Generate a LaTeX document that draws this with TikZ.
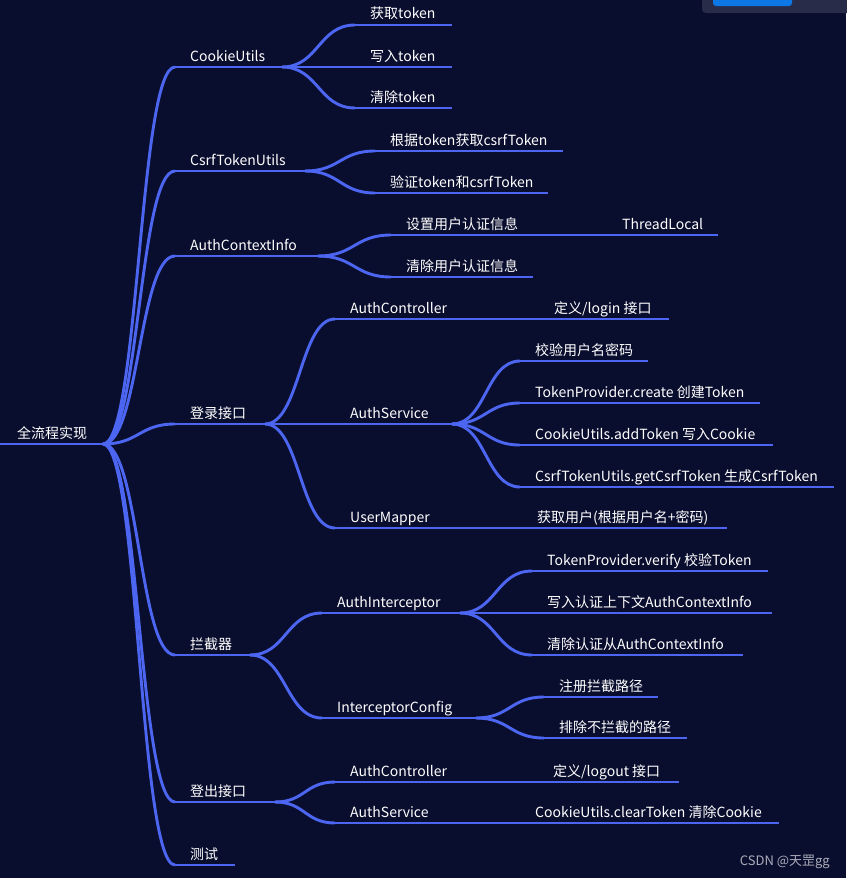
\documentclass[tikz,border=0pt]{standalone}
\usepackage{fontspec}
\setmainfont{Noto Sans CJK SC}
\usetikzlibrary{calc}
\definecolor{bg}{RGB}{10,14,46}
\definecolor{ln}{RGB}{76,102,242}
\definecolor{panel}{RGB}{40,44,72}
\definecolor{btn}{RGB}{12,120,230}
\definecolor{wm}{RGB}{170,172,185}
\tikzset{
  uline/.style={draw=ln, line width=2.9pt},
  lbl/.style={text=white, font=\fontsize{14}{16}\selectfont, inner sep=0pt, anchor=base west},
}
\newcommand\mmnode[5]{%
  \coordinate (#1-s) at (#2,#4);
  \coordinate (#1-e) at (#3,#4);
  \draw[uline] (#1-s) -- (#1-e);
  \node[lbl] (#1) at (#2+15,#4-6) {#5};
}
\newcommand\mmlink[2]{\draw[uline] let \p1=(#1-e), \p2=(#2-s) in (\p1) .. controls ({(\x1+\x2)/2},\y1) and ({(\x1+\x2)/2},\y2) .. (\p2);}
\begin{document}
\begin{tikzpicture}[x=1pt,y=-1pt]
\fill[bg] (0,0) rectangle (846,878);
\useasboundingbox (0,0) rectangle (846,878);
% top-right UI panel
\fill[panel, rounded corners=4pt] (702,-6) rectangle (852,13);
\fill[btn, rounded corners=3pt] (713,-6) rectangle (792,6);
% root
\coordinate (root-s) at (0,444);
\coordinate (root-e) at (103,444);
\draw[uline] (root-s) -- (root-e);
\node[lbl] (root) at (17,438) {全流程实现};
% level 1
\mmnode{cu}{175}{282}{67}{CookieUtils}
\mmnode{ct}{175}{305}{171}{CsrfTokenUtils}
\mmnode{ac}{175}{318}{256}{AuthContextInfo}
\mmnode{li}{175}{265}{424}{登录接口}
\mmnode{ic}{175}{250}{655}{拦截器}
\mmnode{lo}{175}{275}{802}{登出接口}
\mmnode{cs}{175}{235}{865}{测试}
\mmlink{root}{cu}
\mmlink{root}{ct}
\mmlink{root}{ac}
\mmlink{root}{li}
\mmlink{root}{ic}
\mmlink{root}{lo}
\mmlink{root}{cs}
% CookieUtils
\mmnode{cua}{355}{452}{25}{获取token}
\mmnode{cub}{355}{452}{67}{写入token}
\mmnode{cuc}{355}{452}{108}{清除token}
\mmlink{cu}{cua}
\mmlink{cu}{cub}
\mmlink{cu}{cuc}
% CsrfTokenUtils
\mmnode{cta}{375}{563}{151}{根据token获取csrfToken}
\mmnode{ctb}{375}{548}{193}{验证token和csrfToken}
\mmlink{ct}{cta}
\mmlink{ct}{ctb}
% AuthContextInfo
\mmnode{aca}{391}{535}{235}{设置用户认证信息}
\mmnode{acb}{391}{533}{277}{清除用户认证信息}
\mmlink{ac}{aca}
\mmlink{ac}{acb}
\mmnode{acaa}{607}{718}{235}{ThreadLocal}
\mmlink{aca}{acaa}
% 登录接口
\mmnode{lia}{335}{466}{319}{AuthController}
\mmnode{lib}{335}{452}{424}{AuthService}
\mmnode{lic}{335}{452}{528}{UserMapper}
\mmlink{li}{lia}
\mmlink{li}{lib}
\mmlink{li}{lic}
\mmnode{liaa}{539}{669}{319}{定义/login 接口}
\mmlink{lia}{liaa}
\mmnode{liba}{520}{648}{361}{校验用户名密码}
\mmnode{libb}{520}{760}{403}{TokenProvider.create 创建Token}
\mmnode{libc}{520}{773}{445}{CookieUtils.addToken 写入Cookie}
\mmnode{libd}{520}{834}{487}{CsrfTokenUtils.getCsrfToken 生成CsrfToken}
\mmlink{lib}{liba}
\mmlink{lib}{libb}
\mmlink{lib}{libc}
\mmlink{lib}{libd}
\mmnode{lica}{522}{727}{528}{获取用户(根据用户名+密码)}
\mmlink{lic}{lica}
% 拦截器
\mmnode{ica}{322}{460}{613}{AuthInterceptor}
\mmnode{icb}{322}{476}{718}{InterceptorConfig}
\mmlink{ic}{ica}
\mmlink{ic}{icb}
\mmnode{icaa}{532}{768}{571}{TokenProvider.verify 校验Token}
\mmnode{icab}{532}{772}{613}{写入认证上下文AuthContextInfo}
\mmnode{icac}{532}{743}{655}{清除认证从AuthContextInfo}
\mmlink{ica}{icaa}
\mmlink{ica}{icab}
\mmlink{ica}{icac}
\mmnode{icba}{544}{658}{697}{注册拦截路径}
\mmnode{icbb}{544}{687}{738}{排除不拦截的路径}
\mmlink{icb}{icba}
\mmlink{icb}{icbb}
% 登出接口
\mmnode{loa}{335}{466}{782}{AuthController}
\mmnode{lob}{335}{452}{823}{AuthService}
\mmlink{lo}{loa}
\mmlink{lo}{lob}
\mmnode{loaa}{538}{679}{782}{定义/logout 接口}
\mmlink{loa}{loaa}
\mmnode{loba}{520}{779}{823}{CookieUtils.clearToken 清除Cookie}
\mmlink{lob}{loba}
% watermark
\node[text=wm, font=\fontsize{13}{15}\selectfont, inner sep=0pt, anchor=base east] (wmk) at (830,865) {CSDN @天罡gg};
\end{tikzpicture}
\end{document}
